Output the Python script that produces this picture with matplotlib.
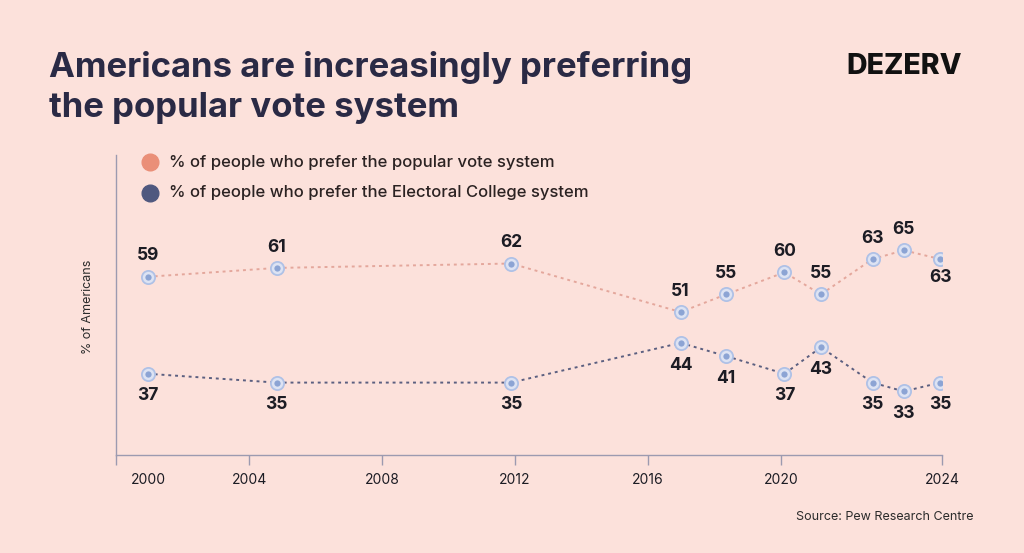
import matplotlib.pyplot as plt
from matplotlib.transforms import ScaledTranslation

# survey dates (fractional year) and shares
years = [2000.96, 2004.83, 2011.88, 2016.98, 2018.35, 2020.10, 2021.20, 2022.75, 2023.69, 2024.79]
popular = [59, 61, 62, 51, 55, 60, 55, 63, 65, 63]
electoral = [37, 35, 35, 44, 41, 37, 43, 35, 33, 35]

tick_years = [2000, 2004, 2008, 2012, 2016, 2020, 2024.84]
tick_labels = ["2000", "2004", "2008", "2012", "2016", "2020", "2024"]

bg = "#FCE1DB"
pop_col = "#E4A79C"
ele_col = "#5B5F80"
axis_col = "#9C9AB0"
text_col = "#1C1C24"

plt.rcParams['font.family'] = ['Inter', 'DejaVu Sans']

fig = plt.figure(figsize=(10.24, 5.53), dpi=100, facecolor=bg)
ax = fig.add_axes([116 / 1024, 1 - 455 / 553, 826 / 1024, 300 / 553])
ax.set_facecolor(bg)

ax.plot(years, popular, ls=(0, (1.5, 2)), color=pop_col, lw=1.4, zorder=2)
ax.plot(years, electoral, ls=(0, (1.5, 2)), color=ele_col, lw=1.4, zorder=2)

for series in (popular, electoral):
    ax.plot(years, series, ls='none', marker='o', ms=9.5, mfc="#DDE3F3",
            mec="#AFC1E6", mew=1.3, zorder=3)
    ax.plot(years, series, ls='none', marker='o', ms=4.5, mfc="#8CA4D4",
            mec="none", zorder=4)

# value labels
for i, (x, v) in enumerate(zip(years, popular)):
    dy = -13 if i == len(years) - 1 else 15
    ax.annotate(str(v), (x, v), xytext=(0, dy), textcoords='offset points',
                ha='center', va='center', fontsize=12.5, fontweight='bold',
                color=text_col)
for x, v in zip(years, electoral):
    ax.annotate(str(v), (x, v), xytext=(0, -16), textcoords='offset points',
                ha='center', va='center', fontsize=12.5, fontweight='bold',
                color=text_col)

ax.set_xlim(2000, 2024.84)
ax.set_ylim(18.58, 86.61)
ax.set_yticks([])
ax.set_xticks(tick_years)
ax.set_xticklabels(tick_labels, fontsize=10, color=text_col)
ax.tick_params(axis='x', direction='out', length=7, width=1, color=axis_col, pad=6)
first = ax.get_xticklabels()[0]
first.set_transform(first.get_transform() + ScaledTranslation(32 / 100, 0, fig.dpi_scale_trans))

for side in ('top', 'right'):
    ax.spines[side].set_visible(False)
for side in ('left', 'bottom'):
    ax.spines[side].set_color(axis_col)
    ax.spines[side].set_linewidth(1)

# title and brand
fig.text(49 / 1024, 1 - 77 / 553, "Americans are increasingly preferring",
         fontsize=25, fontweight='bold', color="#2A2A45", va='baseline')
fig.text(49 / 1024, 1 - 117 / 553, "the popular vote system",
         fontsize=25, fontweight='bold', color="#2A2A45", va='baseline')
fig.text(962 / 1024, 1 - 74 / 553, "DEZERV", fontsize=20.5, fontweight='heavy',
         color="#111111", ha='right', va='baseline')

# legend
leg_y = [1 - 162.5 / 553, 1 - 192.5 / 553]
leg_cols = ["#EA8F78", "#4F587F"]
leg_text = ["% of people who prefer the popular vote system",
            "% of people who prefer the Electoral College system"]
for yy, c, t in zip(leg_y, leg_cols, leg_text):
    fig.add_artist(plt.Line2D([150 / 1024], [yy], marker='o', ms=12, color=c,
                              ls='none', transform=fig.transFigure))
    fig.text(169 / 1024, yy, t, fontsize=12, fontweight='medium',
             color="#2B2222", va='center')

fig.text(88 / 1024, 1 - 307 / 553, "% of Americans", rotation=90, fontsize=9,
         color="#2B2B2B", ha='center', va='center')
fig.text(973 / 1024, 1 - 517 / 553, "Source: Pew Research Centre", fontsize=9,
         color="#2B2B2B", ha='right', va='center')

fig.savefig("out.png", dpi=100, facecolor=bg)
